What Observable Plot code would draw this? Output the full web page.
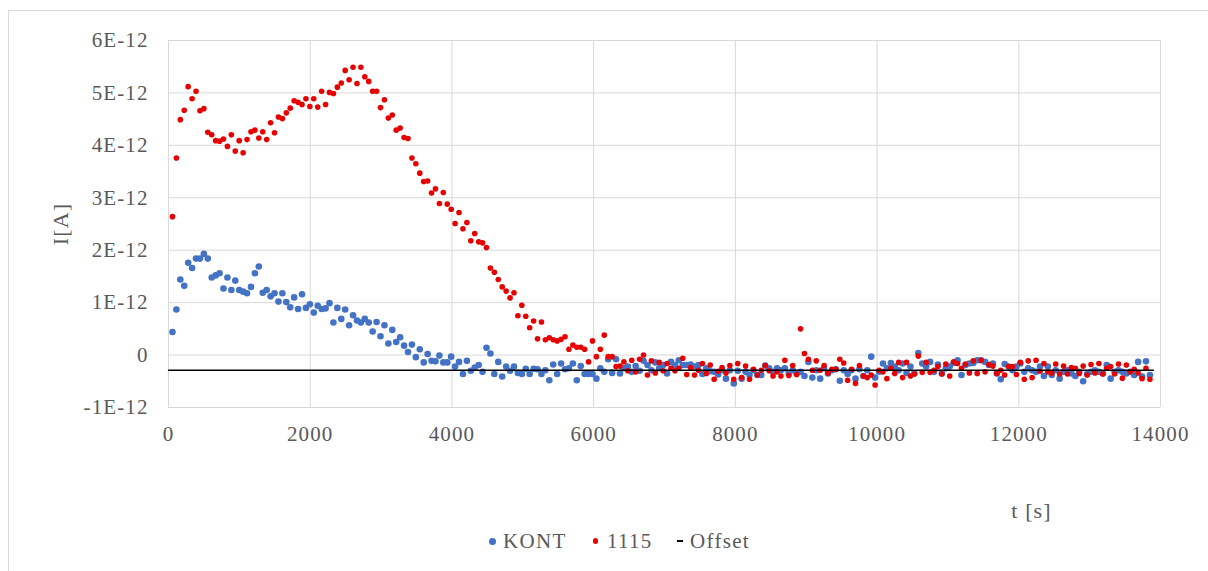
<!DOCTYPE html>
<html>
<head>
<meta charset="utf-8">
<script src="https://cdn.jsdelivr.net/npm/d3@7"></script>
<script src="https://cdn.jsdelivr.net/npm/@observablehq/plot@0.6"></script>
<style>
  html, body { margin: 0; padding: 0; background: #fff; }
  #wrap { position: relative; width: 1208px; height: 571px; overflow: hidden;
          font-family: "Liberation Serif", "Times New Roman", serif; color: #595959; }
  #frame { position: absolute; left: 8px; top: 10px; width: 1400px; height: 800px;
           border: 1px solid #d9d9d9; box-sizing: border-box; }
  #chart { position: absolute; left: 0; top: 0; }
  #legend { position: absolute; left: 0; top: 525px; width: 1208px; height: 32px;
            font-size: 21px; letter-spacing: 1.3px; }
  #legend .it { position: absolute; top: 0; height: 32px; line-height: 32px; white-space: nowrap; }
  #legend .mk { position: absolute; }
</style>
</head>
<body>
<div id="wrap">
  <div id="frame"></div>
  <div id="chart"></div>
  <div id="legend"></div>
</div>
<script>
// ---- data (current in units of 1E-12 A) ----
const sampleStart = 56;
const sampleStep = 55.4;

const seriesNames = ["KONT", "1115", "Offset"];

const kont = [
  0.44, 0.87, 1.44, 1.32, 1.76, 1.66, 1.84, 1.84, 1.93, 1.84, 1.48, 1.52, 1.56, 1.27, 1.48, 1.24, 1.42, 1.24, 1.21, 1.18, 1.30, 1.56, 1.69, 1.19, 1.24, 1.12, 1.18, 1.02, 1.18, 1.01, 0.91,
  1.10, 0.88, 1.16, 0.90, 0.97, 0.81, 0.94, 0.88, 0.89, 0.99, 0.62, 0.90, 0.69, 0.87, 0.57, 0.76, 0.66, 0.62, 0.69, 0.62, 0.45, 0.63, 0.36, 0.57, 0.22, 0.48, 0.25, 0.34, 0.18, 0.06, 0.20, -0.04, 0.11,
  -0.14, 0.02, -0.11, -0.12, -0.01, -0.14, -0.14, -0.03, -0.22, -0.13, -0.36, -0.11, -0.30, -0.24, -0.19, -0.32, 0.14, 0.03, -0.36, -0.13, -0.41, -0.22, -0.30, -0.22, -0.34, -0.36, -0.26, -0.36, -0.26, -0.27, -0.36, -0.29, -0.48,
  -0.18, -0.36, -0.16, -0.27, -0.25, -0.16, -0.48, -0.21, -0.36, -0.36, -0.36, -0.45, -0.25, -0.32, -0.08, -0.34, -0.08, -0.35, -0.25, -0.22, -0.32, -0.21, -0.30, -0.11, -0.19, -0.29, -0.14, -0.25, -0.19, -0.35, -0.13, -0.19, -0.10,
  -0.19, -0.19, -0.18, -0.22, -0.19, -0.36, -0.25, -0.31, -0.32, -0.37, -0.29, -0.45, -0.29, -0.54, -0.30, -0.45, -0.32, -0.38, -0.29, -0.38, -0.38, -0.20, -0.25, -0.32, -0.25, -0.29, -0.25, -0.35, -0.29, -0.35, -0.32, -0.40, -0.13,
  -0.43, -0.29, -0.45, -0.25, -0.35, -0.29, -0.27, -0.49, -0.29, -0.36, -0.29, -0.45, -0.27, -0.40, -0.29, -0.03, -0.43, -0.32, -0.16, -0.25, -0.15, -0.22, -0.29, -0.16, -0.34, -0.22, -0.35, 0.04, -0.16, -0.22, -0.13,
  -0.32, -0.18, -0.35, -0.25, -0.22, -0.15, -0.10, -0.38, -0.19, -0.16, -0.15, -0.10, -0.10, -0.13, -0.19, -0.16, -0.35, -0.46, -0.17, -0.22, -0.29, -0.22, -0.16, -0.32, -0.25, -0.29, -0.32, -0.22, -0.40, -0.22,
  -0.38, -0.29, -0.45, -0.32, -0.29, -0.35, -0.40, -0.32, -0.50, -0.36, -0.32, -0.29, -0.32, -0.35, -0.19, -0.45, -0.32, -0.29, -0.32, -0.35, -0.32, -0.38, -0.13, -0.41, -0.12, -0.38
];

const s1115 = [
  2.64, 3.76, 4.49, 4.67, 5.12, 4.89, 5.03, 4.66, 4.70, 4.25, 4.20, 4.09, 4.08, 4.12, 3.98, 4.20, 3.89, 4.09, 3.86, 4.11, 4.26, 4.29, 4.14, 4.26, 4.11, 4.43, 4.24, 4.54, 4.51, 4.62, 4.71,
  4.85, 4.82, 4.78, 4.89, 4.74, 4.89, 4.73, 5.03, 4.78, 5.01, 4.99, 5.11, 5.19, 5.43, 5.25, 5.49, 5.18, 5.49, 5.31, 5.22, 5.03, 5.03, 4.72, 4.87, 4.52, 4.58, 4.29, 4.33, 4.15, 4.13, 3.76, 3.65, 3.47,
  3.31, 3.32, 3.09, 3.17, 2.89, 3.10, 2.88, 2.78, 2.51, 2.72, 2.41, 2.53, 2.18, 2.32, 2.16, 2.14, 2.05, 1.66, 1.58, 1.44, 1.30, 1.22, 1.09, 1.19, 0.75, 0.95, 0.74, 0.52, 0.65, 0.31, 0.63, 0.29, 0.33,
  0.29, 0.27, 0.30, 0.35, 0.11, 0.19, 0.15, 0.15, 0.11, -0.13, 0.27, -0.03, 0.11, 0.38, -0.03, -0.03, -0.22, -0.21, -0.13, -0.30, -0.10, -0.32, -0.08, 0.00, -0.38, -0.11, -0.34, -0.14, -0.30, -0.16, -0.25, -0.30, -0.25,
  -0.06, -0.37, -0.24, -0.38, -0.29, -0.16, -0.35, -0.19, -0.46, -0.31, -0.24, -0.34, -0.20, -0.46, -0.16, -0.43, -0.21, -0.46, -0.27, -0.38, -0.29, -0.20, -0.30, -0.40, -0.32, -0.40, -0.10, -0.39, -0.20, -0.37, 0.50, 0.03, -0.08,
  -0.29, -0.11, -0.29, -0.20, -0.34, -0.27, -0.27, -0.08, -0.15, -0.48, -0.27, -0.54, -0.20, -0.40, -0.43, -0.38, -0.57, -0.29, -0.32, -0.45, -0.25, -0.35, -0.14, -0.43, -0.14, -0.40, -0.36, -0.02, -0.33, -0.14, -0.33,
  -0.29, -0.22, -0.36, -0.17, -0.40, -0.13, -0.16, -0.25, -0.17, -0.34, -0.11, -0.35, -0.10, -0.32, -0.18, -0.21, -0.35, -0.29, -0.38, -0.22, -0.22, -0.37, -0.14, -0.46, -0.11, -0.43, -0.10, -0.31, -0.16, -0.32,
  -0.34, -0.17, -0.36, -0.21, -0.36, -0.24, -0.25, -0.35, -0.21, -0.38, -0.18, -0.34, -0.16, -0.36, -0.25, -0.22, -0.36, -0.17, -0.44, -0.19, -0.32, -0.27, -0.34, -0.45, -0.25, -0.46
];

const offsetT = [0, 13900];
const offsetV = [-0.29, -0.29];

const xTicks = [0, 2000, 4000, 6000, 8000, 10000, 12000, 14000];
const yTicks = [-1, 0, 1, 2, 3, 4, 5, 6];
const yTickLabels = ["-1E-12", "0", "1E-12", "2E-12", "3E-12", "4E-12", "5E-12", "6E-12"];

const xTitle = "t [s]";
const yTitle = "I[A]";

// ---- build tables ----
const kontRows = kont.map((v, i) => ({t: sampleStart + i * sampleStep, v}));
const redRows = s1115.map((v, i) => ({t: sampleStart + i * sampleStep, v}));
const offsetRows = offsetT.map((t, i) => ({t, v: offsetV[i]}));

const colors = {KONT: "#4472C4", "1115": "#E60000", Offset: "#000000"};
const grid = "#d9d9d9";
const font = "'Liberation Serif', 'Times New Roman', serif";

const chart = Plot.plot({
  width: 1208,
  height: 525,
  marginLeft: 168,
  marginRight: 48,
  marginTop: 40,
  marginBottom: 118,
  style: {fontFamily: font, fontSize: "21px", color: "#595959", letterSpacing: "1.1px", background: "transparent", overflow: "visible"},
  x: {type: "linear", domain: [0, 14000]},
  y: {type: "linear", domain: [-1, 6]},
  marks: [
    Plot.ruleX(xTicks, {stroke: grid, strokeWidth: 1}),
    Plot.ruleY(yTicks, {stroke: grid, strokeWidth: 1}),
    Plot.axisX({ticks: xTicks, tickSize: 0, tickPadding: 19, tickFormat: d => String(d), label: null, fontSize: 21}),
    Plot.axisY({ticks: yTicks, tickSize: 0, tickPadding: 20, tickFormat: d => yTickLabels[yTicks.indexOf(d)], label: null, fontSize: 21}),
    Plot.dot(kontRows, {x: "t", y: "v", r: 3.3, fill: colors.KONT}),
    Plot.dot(redRows, {x: "t", y: "v", r: 2.8, fill: colors["1115"]}),
    Plot.line(offsetRows, {x: "t", y: "v", stroke: colors.Offset, strokeWidth: 1.4}),
    Plot.text([yTitle], {text: d => d, frameAnchor: "left", rotate: -90, dx: -108, lineAnchor: "middle", textAnchor: "middle", fontSize: 22, fill: "#595959"}),
    Plot.text([xTitle], {text: d => d, frameAnchor: "bottom-right", dx: -129, dy: 103, lineAnchor: "middle", textAnchor: "middle", fontSize: 22, fill: "#595959"})
  ]
});
document.getElementById("chart").appendChild(chart);

// ---- legend ----
const legend = document.getElementById("legend");
const legendItems = [
  {name: seriesNames[0], color: colors.KONT, kind: "dot", size: 7, mk: 488.5, tx: 503},
  {name: seriesNames[1], color: colors["1115"], kind: "dot", size: 5.5, mk: 592.7, tx: 607},
  {name: seriesNames[2], color: colors.Offset, kind: "dash", size: 6, mk: 677, tx: 690}
];
for (const it of legendItems) {
  const m = document.createElement("span");
  m.className = "mk";
  if (it.kind === "dot") {
    m.style.cssText = `left:${it.mk}px;top:${16 - it.size / 2}px;width:${it.size}px;height:${it.size}px;border-radius:50%;background:${it.color};`;
  } else {
    m.style.cssText = `left:${it.mk}px;top:15px;width:${it.size}px;height:2px;background:${it.color};`;
  }
  legend.appendChild(m);
  const t = document.createElement("span");
  t.className = "it";
  t.style.left = it.tx + "px";
  t.textContent = it.name;
  legend.appendChild(t);
}
</script>
</body>
</html>
